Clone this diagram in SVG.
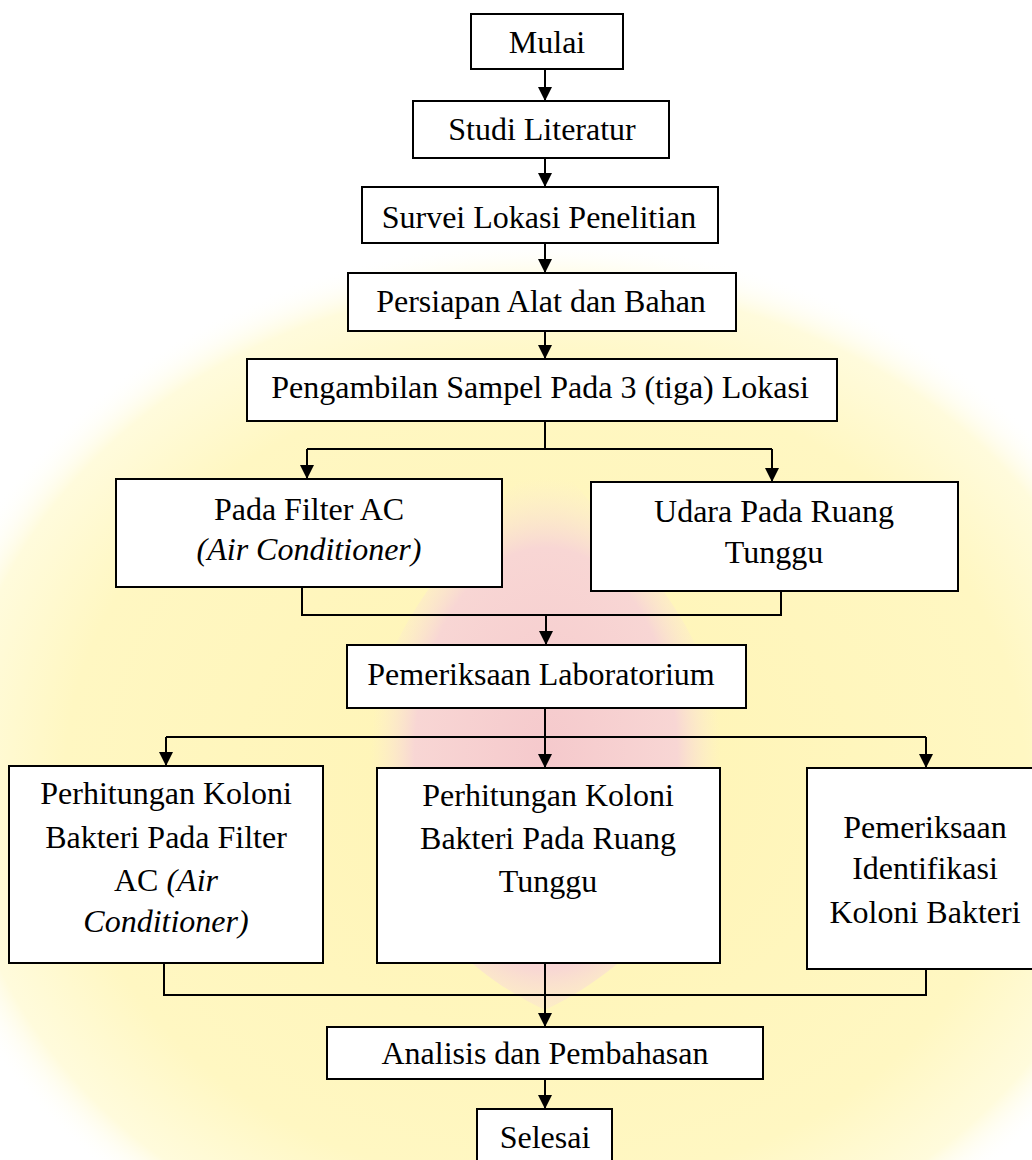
<svg xmlns="http://www.w3.org/2000/svg" width="1032" height="1160" viewBox="0 0 1032 1160">
  <defs>
    <style>
      .box { fill: #ffffff; stroke: #000000; stroke-width: 2; }
      .lbl { font-family: "Liberation Serif", "Times New Roman", serif; font-size: 32px; fill: #000000; text-anchor: middle; }
      .it { font-style: italic; }
      .con { fill: none; stroke: #000000; stroke-width: 2; }
      .wm { stroke: none; }
    </style>
    <marker id="arr" markerUnits="userSpaceOnUse" markerWidth="16" markerHeight="16" refX="14" refY="7.5" orient="auto">
      <path d="M0,0.5 L14,7.5 L0,14.5 Z" fill="#000000"/>
    </marker>
    <radialGradient id="yel" cx="0.5" cy="0.5" r="0.5">
      <stop offset="0" stop-color="#fff4b4"/>
      <stop offset="0.75" stop-color="#fff7c2"/>
      <stop offset="0.92" stop-color="#fffbdc"/>
      <stop offset="1" stop-color="#ffffff" stop-opacity="0"/>
    </radialGradient>
    <radialGradient id="pnk" cx="0.5" cy="0.55" r="0.5">
      <stop offset="0" stop-color="#f5c9cc"/>
      <stop offset="0.75" stop-color="#f8d6d4"/>
      <stop offset="1" stop-color="#fbe9d4" stop-opacity="0"/>
    </radialGradient>
  </defs>

  <rect x="0" y="0" width="1032" height="1160" fill="#ffffff"/>

  <g id="watermark" class="wm">
    <ellipse cx="545" cy="780" rx="640" ry="540" fill="url(#yel)"/>
    <path d="M545,450 C460,550 360,640 372,770 C380,870 440,960 545,1010 C650,960 712,870 720,770 C732,640 630,550 545,450 Z" fill="url(#pnk)"/>
  </g>

  <g id="connectors">
    <path class="con" d="M545,69 V101" marker-end="url(#arr)"/>
    <path class="con" d="M545,158 V187" marker-end="url(#arr)"/>
    <path class="con" d="M545,243 V273" marker-end="url(#arr)"/>
    <path class="con" d="M545,331 V359" marker-end="url(#arr)"/>
    <path class="con" d="M545,421 V449"/>
    <path class="con" d="M307,449 H772"/>
    <path class="con" d="M307,449 V479" marker-end="url(#arr)"/>
    <path class="con" d="M772,449 V482" marker-end="url(#arr)"/>
    <path class="con" d="M302,587 V615 H781 V591"/>
    <path class="con" d="M546,615 V645" marker-end="url(#arr)"/>
    <path class="con" d="M545,708 V737"/>
    <path class="con" d="M166,737 H926"/>
    <path class="con" d="M166,737 V766" marker-end="url(#arr)"/>
    <path class="con" d="M545,737 V768" marker-end="url(#arr)"/>
    <path class="con" d="M926,737 V768" marker-end="url(#arr)"/>
    <path class="con" d="M164,963 V995 H926 V969"/>
    <path class="con" d="M545,963 V1027" marker-end="url(#arr)"/>
    <path class="con" d="M545,1079 V1109" marker-end="url(#arr)"/>
  </g>

  <g id="mulai">
    <rect class="box" x="471" y="14" width="152" height="55"/>
    <text class="lbl" x="547" y="53">Mulai</text>
  </g>
  <g id="studi-literatur">
    <rect class="box" x="413" y="101" width="256" height="57"/>
    <text class="lbl" x="542" y="140">Studi Literatur</text>
  </g>
  <g id="survei-lokasi">
    <rect class="box" x="362" y="187" width="356" height="56"/>
    <text class="lbl" x="539" y="228">Survei Lokasi Penelitian</text>
  </g>
  <g id="persiapan">
    <rect class="box" x="348" y="273" width="388" height="58"/>
    <text class="lbl" x="541" y="312">Persiapan Alat dan Bahan</text>
  </g>
  <g id="pengambilan-sampel">
    <rect class="box" x="247" y="359" width="590" height="62"/>
    <text class="lbl" x="540" y="398">Pengambilan Sampel Pada 3 (tiga) Lokasi</text>
  </g>
  <g id="filter-ac">
    <rect class="box" x="116" y="479" width="386" height="108"/>
    <text class="lbl" x="309" y="520">Pada Filter AC</text>
    <text class="lbl it" x="309" y="560">(Air Conditioner)</text>
  </g>
  <g id="udara-ruang-tunggu">
    <rect class="box" x="591" y="482" width="367" height="109"/>
    <text class="lbl" x="774" y="522">Udara Pada Ruang</text>
    <text class="lbl" x="774" y="563">Tunggu</text>
  </g>
  <g id="pemeriksaan-lab">
    <rect class="box" x="347" y="645" width="399" height="63"/>
    <text class="lbl" x="541" y="685">Pemeriksaan Laboratorium</text>
  </g>
  <g id="koloni-filter">
    <rect class="box" x="9" y="766" width="314" height="197"/>
    <text class="lbl" x="166" y="804">Perhitungan Koloni</text>
    <text class="lbl" x="166" y="848">Bakteri Pada Filter</text>
    <text class="lbl" x="166" y="891">AC <tspan class="it">(Air</tspan></text>
    <text class="lbl it" x="166" y="932">Conditioner)</text>
  </g>
  <g id="koloni-ruang">
    <rect class="box" x="377" y="768" width="343" height="195"/>
    <text class="lbl" x="548" y="806">Perhitungan Koloni</text>
    <text class="lbl" x="548" y="849">Bakteri Pada Ruang</text>
    <text class="lbl" x="548" y="892">Tunggu</text>
  </g>
  <g id="identifikasi">
    <rect class="box" x="807" y="768" width="236" height="201"/>
    <text class="lbl" x="925" y="838">Pemeriksaan</text>
    <text class="lbl" x="925" y="879">Identifikasi</text>
    <text class="lbl" x="925" y="923">Koloni Bakteri</text>
  </g>
  <g id="analisis">
    <rect class="box" x="327" y="1027" width="436" height="52"/>
    <text class="lbl" x="545" y="1064">Analisis dan Pembahasan</text>
  </g>
  <g id="selesai">
    <rect class="box" x="477" y="1109" width="135" height="60"/>
    <text class="lbl" x="545" y="1148">Selesai</text>
  </g>
</svg>
